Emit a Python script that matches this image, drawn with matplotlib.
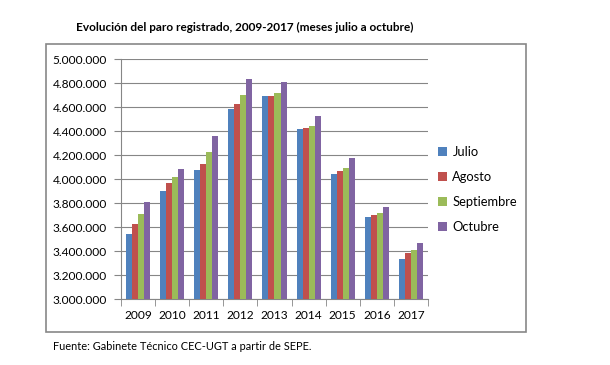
import numpy as np
import matplotlib.pyplot as plt
from matplotlib.patches import Rectangle
from matplotlib.ticker import FuncFormatter

plt.rcParams['font.family'] = ['Lato', 'DejaVu Sans']

years = ['2009', '2010', '2011', '2012', '2013', '2014', '2015', '2016', '2017']
julio = [3544000, 3903000, 4075000, 4586000, 4692000, 4414000, 4042000, 3681000, 3336000]
agosto = [3629000, 3969000, 4128000, 4625000, 4692000, 4425000, 4064000, 3697000, 3383000]
septiembre = [3709000, 4017000, 4222000, 4703000, 4719000, 4442000, 4092000, 3719000, 3408000]
octubre = [3808000, 4086000, 4356000, 4831000, 4808000, 4522000, 4178000, 3767000, 3469000]

series = [('Julio', julio, '#4F81BD'),
          ('Agosto', agosto, '#C0504D'),
          ('Septiembre', septiembre, '#9BBB59'),
          ('Octubre', octubre, '#8064A2')]

W, H = 610, 365
fig = plt.figure(figsize=(W / 100, H / 100), dpi=100)
ax = fig.add_axes([121 / W, 1 - 299 / H, (428 - 121) / W, (299 - 59) / H])

x = np.arange(len(years))
bw = 0.176
for i, (name, vals, col) in enumerate(series):
    ax.bar(x + (i - 1.5) * bw, np.array(vals) - 3000000, bw, bottom=3000000,
           color=col, label=name, zorder=3)

ax.set_xlim(-0.5, len(years) - 0.5)
ax.set_ylim(3000000, 5000000)
ax.set_yticks(np.arange(3000000, 5000001, 200000))
ax.yaxis.set_major_formatter(FuncFormatter(lambda v, p: f'{int(v):,}'.replace(',', '.')))
ax.set_xticks(x)
ax.set_xticklabels(years)
ax.set_xticks(np.arange(-0.5, len(years)), minor=True)
ax.tick_params(axis='x', which='major', length=0, pad=8, labelsize=8.6)
ax.tick_params(axis='x', which='minor', length=5, color='#868686')
ax.tick_params(axis='y', length=5, color='#868686', labelsize=8.6, pad=5)
ax.grid(axis='y', color='#868686', linewidth=0.8, zorder=0)
for s in ['top', 'right']:
    ax.spines[s].set_visible(False)
for s in ['left', 'bottom']:
    ax.spines[s].set_color('#868686')

leg = fig.legend(loc='upper left', bbox_to_anchor=(433 / W, 1 - 141 / H), frameon=False,
                 fontsize=9.3, handlelength=0.7, handleheight=0.7, handletextpad=0.4,
                 labelspacing=1.0, borderaxespad=0)

fig.patches.append(Rectangle((46 / W, 1 - 332 / H), (526 - 46) / W, (332 - 44) / H,
                             transform=fig.transFigure, fill=False, edgecolor='#878787',
                             linewidth=1.2))

fig.text(245 / W, 1 - 27 / H, 'Evolución del paro registrado, 2009-2017 (meses julio a octubre)',
         ha='center', va='center', fontsize=8.5, fontweight='bold')
fig.text(53 / W, 1 - 347 / H, 'Fuente: Gabinete Técnico CEC-UGT a partir de SEPE.',
         ha='left', va='center', fontsize=7.9)

fig.savefig('out.png', dpi=100)
